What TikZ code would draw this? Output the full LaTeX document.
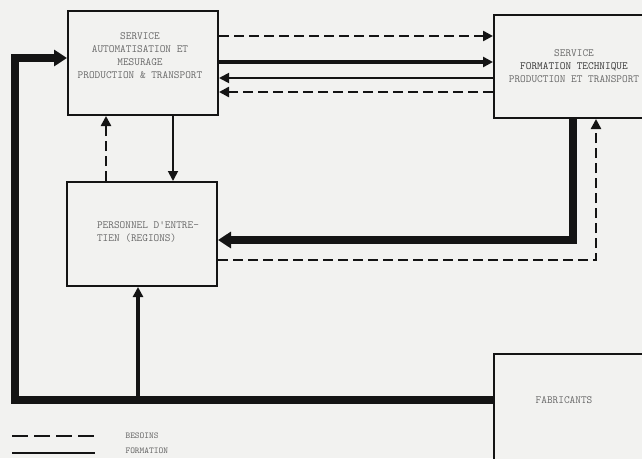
\documentclass[tikz,border=0pt]{standalone}
\usepackage{tikz}
\usetikzlibrary{arrows.meta,positioning,calc}
\definecolor{papier}{RGB}{242,242,240}
\definecolor{encre}{RGB}{20,20,20}
\definecolor{texte}{RGB}{105,105,105}

\begin{document}
\begin{tikzpicture}[x=1pt,y=-1pt,
    boite/.style={draw=encre,line width=2pt,fill=papier,inner sep=0pt},
    lbl/.style={font=\ttfamily\fontsize{11}{13}\selectfont,text=texte,align=center},
    besoin/.style={draw=encre,line width=2.4pt,dash pattern=on 10pt off 5pt},
    fleche/.style={-{Triangle[length=10pt,width=10pt]}},
    mince/.style={draw=encre,line width=1.8pt},
    moyen/.style={draw=encre,line width=3.4pt},
    epais/.style={draw=encre,line width=7.5pt,line join=miter}]
    \clip (0,0) rectangle (642,458);
    \fill[papier] (0,0) rectangle (642,458);
    % les quatre boites
    \node[boite,minimum width=150pt,minimum height=104pt] (auto) at (143,63) {};
    \node[lbl] at (140,56) {SERVICE\\AUTOMATISATION ET\\MESURAGE\\PRODUCTION \& TRANSPORT};
    \node[boite,minimum width=162pt,minimum height=103pt] (form) at (575,66.5) {};
    \node[lbl] at (574,66) {SERVICE\\\textcolor{encre!85}{FORMATION TECHNIQUE}\\PRODUCTION ET TRANSPORT};
    \node[boite,minimum width=150pt,minimum height=104pt] (pers) at (142,234) {};
    \node[lbl,align=left] at (148,232) {PERSONNEL D'ENTRE-\\TIEN (REGIONS)};
    \node[boite,minimum width=152pt,minimum height=106pt] (fabr) at (570,407) {};
    \node[lbl] at (564,400) {FABRICANTS};
    % liaisons entre les services
    \draw[besoin,fleche] (auto.east |- 0,36) -- (form.west |- 0,36);
    \draw[moyen,fleche] (auto.east |- 0,62) -- (form.west |- 0,62);
    \draw[mince,fleche] (form.west |- 0,78) -- (auto.east |- 0,78);
    \draw[besoin,fleche] (form.west |- 0,92) -- (auto.east |- 0,92);
    % vers le personnel d'entretien
    \draw[mince,fleche] (auto.south -| 173,0) -- (pers.north -| 173,0);
    \draw[besoin,fleche] (pers.north -| 106,0) -- (auto.south -| 106,0);
    \draw[epais,-{Triangle[length=13pt,width=16pt]}] (form.south -| 573,0) |- (pers.east |- 0,240);
    \draw[besoin,fleche] (pers.east |- 0,260) -| (form.south -| 596,0);
    % fabricants
    \coordinate (coin) at (15,400);
    \coordinate (jonc) at (138,400);
    \draw[epais,-{Triangle[length=13pt,width=16pt]}] (fabr.west |- coin) -- (coin) |- (auto.west |- 0,58);
    \draw[moyen,fleche] (jonc) -- (pers.south -| jonc);
    % legende
    \node[lbl,anchor=west,font=\ttfamily\fontsize{9}{10}\selectfont] (lbes) at (122,436) {BESOINS};
    \node[lbl,anchor=west,font=\ttfamily\fontsize{9}{10}\selectfont] (lform) at (122,451) {FORMATION};
    \coordinate (lb) at (12,436);
    \coordinate (lf) at (12,453);
    \draw[besoin,line width=2.8pt,dash pattern=on 16pt off 6pt] (lb) -- ($(lbes.west)+(-27,0)$);
    \draw[moyen,line width=2.8pt] (lf) -- (lf -| 95,0);
\end{tikzpicture}
\end{document}
